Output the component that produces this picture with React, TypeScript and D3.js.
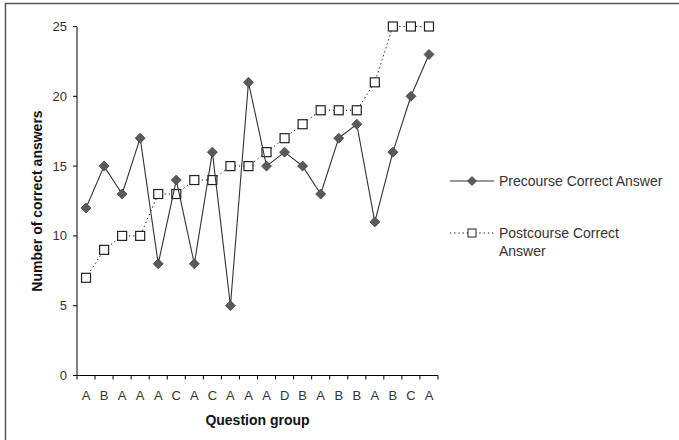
import React from "react";
import * as d3 from "d3";

const categories = ["A","B","A","A","A","C","A","C","A","A","A","D","B","A","B","B","A","B","C","A"];
const precourse = [12,15,13,17,8,14,8,16,5,21,15,16,15,13,17,18,11,16,20,23];
const postcourse = [7,9,10,10,13,13,14,14,15,15,16,17,18,19,19,19,21,25,25,25];
const yTicks = [0,5,10,15,20,25];

const W = 679, H = 440;
const left = 77, right = 438, top = 26.5, bottom = 375.5;
const font = "'Liberation Sans', Arial, sans-serif";

export default function App() {
  const ids = categories.map((_, i) => String(i));
  const x = d3.scaleBand<string>().domain(ids).range([left, right]);
  const y = d3.scaleLinear().domain([0, 25]).range([bottom, top]);
  const cx = (i: number) => (x(String(i)) as number) + x.bandwidth() / 2;
  const line = d3.line<number>().x((_, i) => cx(i)).y(d => y(d));
  const diamond = (px: number, py: number, r = 5) =>
    `M${px},${py - r}L${px + r},${py}L${px},${py + r}L${px - r},${py}Z`;
  const bounds = d3.range(categories.length + 1).map(i => left + i * x.bandwidth());

  return (
    <svg width={W} height={H} style={{ position: "absolute", left: 0, top: 0 }}>
      <rect x={0} y={0} width={W} height={H} fill="#fff" />
      <path d={`M5.5,${H}V3.5H${W}`} fill="none" stroke="#555" strokeWidth={1.5} />
      {/* y axis */}
      <line x1={left} x2={left} y1={top} y2={bottom} stroke="#000" strokeWidth={1} />
      {yTicks.map(t => (
        <g key={t}>
          <line x1={left - 4} x2={left} y1={y(t)} y2={y(t)} stroke="#000" />
          <text x={left - 10} y={y(t)} dy="0.35em" textAnchor="end" fontFamily={font} fontSize={13} fill="#333">{t}</text>
        </g>
      ))}
      {/* x axis */}
      <line x1={left} x2={right} y1={bottom} y2={bottom} stroke="#000" />
      {bounds.map((b, i) => (
        <line key={i} x1={b} x2={b} y1={bottom} y2={bottom + 4} stroke="#000" />
      ))}
      {categories.map((c, i) => (
        <text key={i} x={cx(i)} y={400} textAnchor="middle" fontFamily={font} fontSize={13} fill="#333">{c}</text>
      ))}
      <text x={(left + right) / 2} y={425} textAnchor="middle" fontFamily={font} fontSize={14} fontWeight="bold" fill="#111">Question group</text>
      <text transform={`translate(42,${(top + bottom) / 2}) rotate(-90)`} textAnchor="middle" fontFamily={font} fontSize={14} fontWeight="bold" fill="#111">Number of correct answers</text>
      {/* postcourse */}
      <path d={line(postcourse) as string} fill="none" stroke="#000" strokeWidth={1} strokeDasharray="1.2,3" />
      {postcourse.map((v, i) => (
        <rect key={i} x={cx(i) - 4.5} y={y(v) - 4.5} width={9} height={9} fill="#fff" stroke="#222" strokeWidth={1.2} />
      ))}
      {/* precourse */}
      <path d={line(precourse) as string} fill="none" stroke="#333" strokeWidth={1.1} />
      {precourse.map((v, i) => (
        <path key={i} d={diamond(cx(i), y(v))} fill="#5a5a5a" stroke="#444" strokeWidth={0.8} />
      ))}
      {/* legend */}
      <line x1={450} x2={494} y1={181} y2={181} stroke="#333" strokeWidth={1.1} />
      <path d={diamond(472, 181, 4.5)} fill="#5a5a5a" stroke="#444" strokeWidth={0.8} />
      <text x={499} y={181} dy="0.35em" fontFamily={font} fontSize={14} fill="#333">Precourse Correct Answer</text>
      <line x1={450} x2={494} y1={233} y2={233} stroke="#000" strokeDasharray="1.2,3" />
      <rect x={468} y={229} width={8} height={8} fill="#fff" stroke="#222" />
      <text x={499} y={233} dy="0.35em" fontFamily={font} fontSize={14} fill="#333">Postcourse Correct</text>
      <text x={499} y={251} dy="0.35em" fontFamily={font} fontSize={14} fill="#333">Answer</text>
    </svg>
  );
}
